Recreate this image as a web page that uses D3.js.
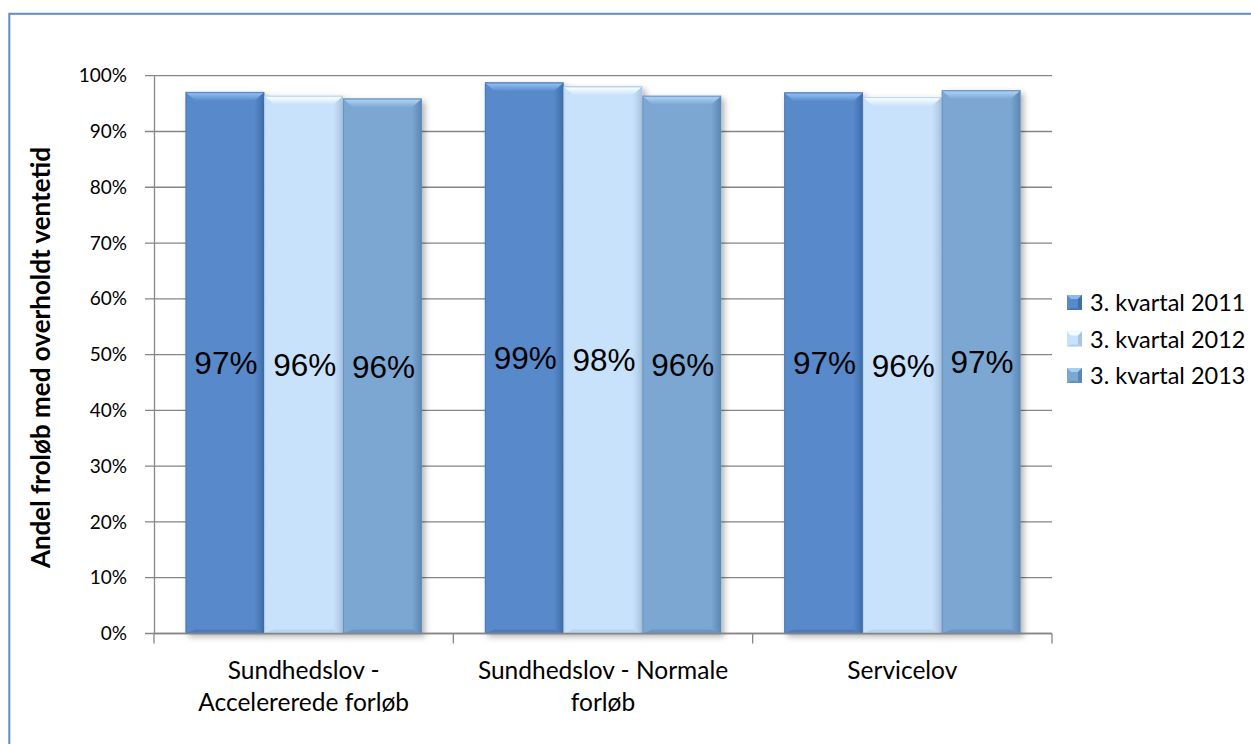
<!DOCTYPE html>
<html>
<head>
<meta charset="utf-8">
<script src="https://cdn.jsdelivr.net/npm/d3@7"></script>
<style>
  html, body { margin: 0; padding: 0; background: #fff; }
  svg { display: block; }
</style>
</head>
<body>
<svg id="chart" width="1251" height="744"></svg>
<script>
// Categories and series
const categories = [
  ["Sundhedslov -", "Accelererede forløb"],
  ["Sundhedslov - Normale", "forløb"],
  ["Servicelov"]
];
const seriesNames = ["3. kvartal 2011", "3. kvartal 2012", "3. kvartal 2013"];
const values2011 = [97.1, 98.8, 97.0];
const values2012 = [96.4, 98.1, 96.2];
const values2013 = [95.9, 96.4, 97.4];
const yTicks = [0, 10, 20, 30, 40, 50, 60, 70, 80, 90, 100];
const yTitle = "Andel frol\u00f8b med overholdt ventetid";

const seriesValues = [values2011, values2012, values2013];
const faceColors = ["#5889cb", "#c9e2fb", "#7ba7d3"];
const lightColors = ["#8cbaf0", "#f6fcff", "#a9cef2"];
const darkColors = ["#3f6ea8", "#a9c5e2", "#5b86b3"];

const svg = d3.select("#chart");
const margin = { left: 154, right: 1052, top: 75.7, bottom: 633.5 };

const x0 = d3.scaleBand().domain(d3.range(categories.length))
  .range([margin.left, margin.right]).paddingInner(0).paddingOuter(0);
const x1 = d3.scaleBand().domain(d3.range(seriesNames.length))
  .range([0, x0.bandwidth()]).paddingOuter(0.4).paddingInner(0);
const y = d3.scaleLinear().domain([0, 100]).range([margin.bottom, margin.top]);

// Outer frame
svg.append("rect").attr("x", 9.3).attr("y", 13.8).attr("width", 1400).attr("height", 900)
  .attr("fill", "none").attr("stroke", "#5f8cc5").attr("stroke-width", 2);

const defs = svg.append("defs");
const f = defs.append("filter").attr("id", "shadow")
  .attr("x", "-10%").attr("y", "-10%").attr("width", "130%").attr("height", "130%");
f.append("feDropShadow").attr("dx", 3).attr("dy", 3).attr("stdDeviation", 3)
  .attr("flood-color", "#000").attr("flood-opacity", 0.3);

seriesNames.forEach((s, i) => {
  const g = defs.append("linearGradient").attr("id", "top" + i)
    .attr("x1", 0).attr("y1", 0).attr("x2", 0).attr("y2", 1);
  g.append("stop").attr("offset", 0).attr("stop-color", darkColors[i]);
  g.append("stop").attr("offset", 0.2).attr("stop-color", lightColors[i]);
  g.append("stop").attr("offset", 1).attr("stop-color", faceColors[i]);
  const r = defs.append("linearGradient").attr("id", "right" + i)
    .attr("x1", 0).attr("y1", 0).attr("x2", 1).attr("y2", 0);
  r.append("stop").attr("offset", 0).attr("stop-color", faceColors[i]);
  r.append("stop").attr("offset", 1).attr("stop-color", darkColors[i]);
});

// Gridlines and y axis
const grid = svg.append("g");
yTicks.forEach(t => {
  grid.append("line").attr("x1", margin.left - 9).attr("x2", margin.right)
    .attr("y1", y(t)).attr("y2", y(t))
    .attr("stroke", "#868686").attr("stroke-width", 1.3);
});
const yAxis = d3.axisLeft(y).tickValues(yTicks).tickFormat(d => d + "%").tickSize(0).tickPadding(27);
const ya = svg.append("g").attr("transform", `translate(${margin.left},0)`).call(yAxis);
ya.select(".domain").attr("stroke", "#868686").attr("stroke-width", 1.3);
ya.selectAll("text").attr("font-family", "Lato, 'Open Sans', sans-serif")
  .attr("font-size", 19).attr("fill", "#000");

// Bars with bevelled edges
const bevelSide = 10, bevelTop = 9, bevelBottom = 4;
categories.forEach((c, ci) => {
  seriesValues.forEach((vals, si) => {
    const v = vals[ci];
    const xa = x0(ci) + x1(si), xb = xa + x1.bandwidth();
    const yt = y(v), yb = y(0);
    const g = svg.append("g").attr("filter", "url(#shadow)");
    g.append("rect").attr("x", xa).attr("y", yt).attr("width", xb - xa).attr("height", yb - yt)
      .attr("fill", faceColors[si]);
    g.append("line").attr("x1", xa + 0.5).attr("x2", xa + 0.5).attr("y1", yt).attr("y2", yb)
      .attr("stroke", darkColors[si]).attr("stroke-width", 1).attr("opacity", 0.6);
    // right bevel
    g.append("polygon").attr("points", [[xb, yt], [xb - bevelSide, yt + bevelTop], [xb - bevelSide, yb - bevelBottom], [xb, yb]].join(" "))
      .attr("fill", `url(#right${si})`);
    // bottom bevel
    g.append("polygon").attr("points", [[xa, yb], [xa + bevelSide, yb - bevelBottom], [xb - bevelSide, yb - bevelBottom], [xb, yb]].join(" "))
      .attr("fill", darkColors[si]).attr("opacity", 0.5);
    // top bevel
    g.append("polygon").attr("points", [[xa, yt], [xb, yt], [xb - bevelSide, yt + bevelTop], [xa + bevelSide, yt + bevelTop]].join(" "))
      .attr("fill", `url(#top${si})`);
    // value label, centred in the bar
    svg.append("text").attr("x", (xa + xb) / 2 + 1).attr("y", (yt + yb) / 2 + 11.5)
      .attr("text-anchor", "middle").attr("font-family", "Arial, 'Liberation Sans', sans-serif")
      .attr("font-size", 31.5).attr("fill", "#000")
      .text(Math.round(v) + "%");
  });
});

// x axis
svg.append("line").attr("x1", margin.left).attr("x2", margin.right)
  .attr("y1", y(0)).attr("y2", y(0)).attr("stroke", "#868686").attr("stroke-width", 1.3);
d3.range(categories.length + 1).forEach(i => {
  const xx = i < categories.length ? x0(i) : margin.right;
  svg.append("line").attr("x1", xx).attr("x2", xx).attr("y1", y(0)).attr("y2", y(0) + 10)
    .attr("stroke", "#868686").attr("stroke-width", 1.3);
});
categories.forEach((lines, ci) => {
  const t = svg.append("text").attr("text-anchor", "middle")
    .attr("font-family", "Lato, 'Open Sans', sans-serif").attr("font-size", 24.5).attr("fill", "#000");
  lines.forEach((ln, li) => {
    t.append("tspan").attr("x", x0(ci) + x0.bandwidth() / 2).attr("y", 679 + li * 32).text(ln);
  });
});

// y axis title
svg.append("text").attr("transform", `translate(50,${(margin.top + margin.bottom) / 2 + 3}) rotate(-90)`)
  .attr("text-anchor", "middle").attr("font-family", "Lato, 'Open Sans', sans-serif")
  .attr("font-weight", "bold").attr("font-size", 26).attr("fill", "#000").text(yTitle);

// Legend
const legend = svg.append("g");
seriesNames.forEach((s, i) => {
  const yy = 302.5 + i * 36.5;
  const mx = 1067, ms = 15;
  const top = yy - ms / 2, bot = yy + ms / 2;
  legend.append("rect").attr("x", mx).attr("y", top).attr("width", ms).attr("height", ms)
    .attr("fill", faceColors[i]);
  legend.append("polygon").attr("points", [[mx, top], [mx + ms, top], [mx + ms - 4, top + 4], [mx + 4, top + 4]].join(" "))
    .attr("fill", lightColors[i]);
  legend.append("polygon").attr("points", [[mx + ms, top], [mx + ms, bot], [mx + ms - 4, bot - 2], [mx + ms - 4, top + 4]].join(" "))
    .attr("fill", darkColors[i]);
  legend.append("polygon").attr("points", [[mx, bot], [mx + ms, bot], [mx + ms - 4, bot - 2], [mx + 4, bot - 2]].join(" "))
    .attr("fill", darkColors[i]).attr("opacity", 0.7);
  legend.append("text").attr("x", 1090).attr("y", yy + 8.5)
    .attr("font-family", "Lato, 'Open Sans', sans-serif").attr("font-size", 23.5).attr("fill", "#000")
    .text(s);
});
</script>
</body>
</html>
